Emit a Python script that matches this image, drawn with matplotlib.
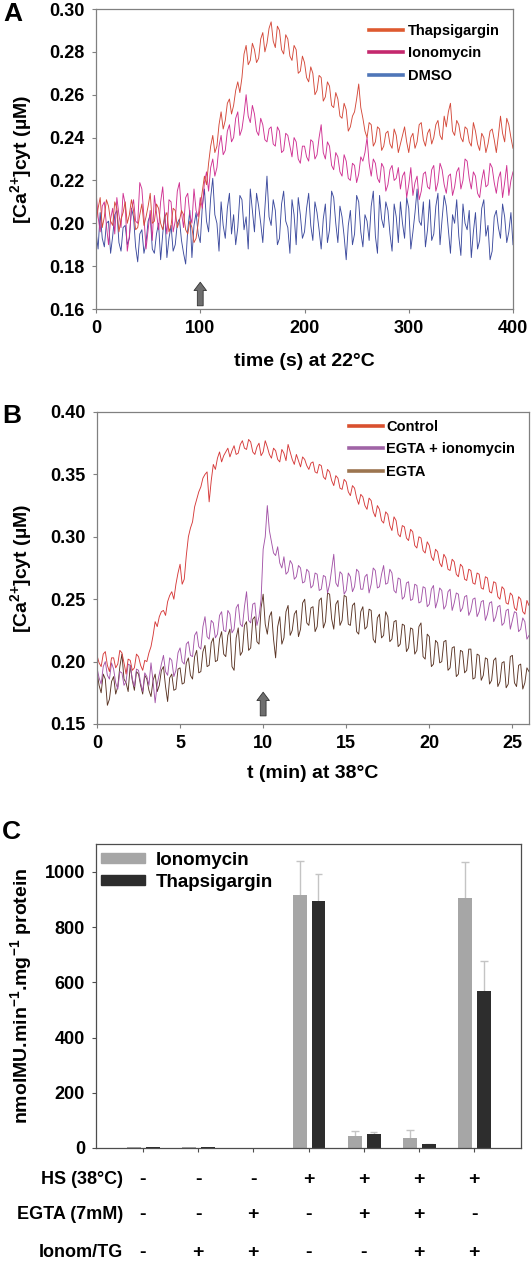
import numpy as np
import matplotlib.pyplot as plt
from matplotlib.lines import Line2D
from matplotlib.patches import Patch

plt.rcParams["font.family"] = ["Liberation Sans", "DejaVu Sans"]
plt.rcParams["font.weight"] = "bold"
plt.rcParams["axes.labelweight"] = "bold"
plt.rcParams["mathtext.fontset"] = "custom"
plt.rcParams["mathtext.rm"] = "Liberation Sans:bold"
plt.rcParams["mathtext.bf"] = "Liberation Sans:bold"
plt.rcParams["mathtext.default"] = "bf"

# ---- panel A: [Ca2+]cyt at 22 C, one reading every 2 s (0..400 s)
a_thapsigargin = [
    0.200, 0.207, 0.212, 0.198, 0.203, 0.211, 0.208, 0.201, 0.199, 0.210,
    0.207, 0.196, 0.202, 0.205, 0.210, 0.200, 0.204, 0.211, 0.206, 0.197,
    0.198, 0.204, 0.209, 0.199, 0.203, 0.208, 0.214, 0.200, 0.201, 0.209,
    0.207, 0.200, 0.197, 0.203, 0.205, 0.196, 0.199, 0.207, 0.206, 0.198,
    0.201, 0.206, 0.204, 0.197, 0.195, 0.201, 0.198, 0.191, 0.193, 0.200,
    0.208, 0.215, 0.222, 0.218, 0.228, 0.236, 0.241, 0.233, 0.236, 0.246,
    0.252, 0.244, 0.248, 0.256, 0.258, 0.251, 0.255, 0.262, 0.266, 0.261,
    0.268, 0.279, 0.283, 0.274, 0.276, 0.284, 0.281, 0.275, 0.277, 0.286,
    0.289, 0.280, 0.284, 0.291, 0.294, 0.285, 0.282, 0.292, 0.290, 0.281,
    0.279, 0.288, 0.286, 0.278, 0.276, 0.283, 0.281, 0.270, 0.271, 0.278,
    0.275, 0.268, 0.266, 0.273, 0.270, 0.260, 0.262, 0.269, 0.268, 0.257,
    0.259, 0.266, 0.264, 0.255, 0.254, 0.261, 0.258, 0.250, 0.249, 0.256,
    0.253, 0.243, 0.245, 0.250, 0.252, 0.258, 0.265, 0.254, 0.249, 0.243,
    0.240, 0.247, 0.246, 0.236, 0.238, 0.245, 0.244, 0.234, 0.236, 0.242,
    0.243, 0.237, 0.235, 0.244, 0.241, 0.233, 0.237, 0.241, 0.245, 0.238,
    0.233, 0.240, 0.242, 0.235, 0.238, 0.246, 0.247, 0.239, 0.236, 0.242,
    0.244, 0.237, 0.240, 0.246, 0.248, 0.241, 0.239, 0.250, 0.245, 0.252,
    0.256, 0.243, 0.241, 0.248, 0.246, 0.240, 0.238, 0.245, 0.244, 0.238,
    0.236, 0.247, 0.243, 0.237, 0.234, 0.242, 0.240, 0.233, 0.237, 0.243,
    0.244, 0.239, 0.233, 0.241, 0.250, 0.242, 0.238, 0.249, 0.246, 0.240,
    0.235,
]
a_ionomycin = [
    0.215, 0.203, 0.196, 0.208, 0.210, 0.199, 0.190, 0.202, 0.207, 0.195,
    0.212, 0.204, 0.198, 0.214, 0.209, 0.187, 0.194, 0.206, 0.211, 0.201,
    0.200, 0.219, 0.216, 0.203, 0.188, 0.197, 0.206, 0.192, 0.213, 0.205,
    0.197, 0.210, 0.217, 0.203, 0.195, 0.211, 0.210, 0.196, 0.201, 0.215,
    0.219, 0.205, 0.198, 0.212, 0.214, 0.204, 0.200, 0.216, 0.206, 0.203,
    0.212, 0.207, 0.219, 0.224, 0.215, 0.226, 0.230, 0.222, 0.226, 0.236,
    0.241, 0.232, 0.234, 0.243, 0.246, 0.238, 0.240, 0.249, 0.252, 0.241,
    0.244, 0.251, 0.260, 0.250, 0.247, 0.255, 0.251, 0.243, 0.241, 0.249,
    0.246, 0.239, 0.238, 0.244, 0.245, 0.237, 0.236, 0.245, 0.243, 0.233,
    0.234, 0.242, 0.241, 0.236, 0.231, 0.240, 0.238, 0.230, 0.228, 0.236,
    0.236, 0.231, 0.229, 0.239, 0.238, 0.230, 0.232, 0.240, 0.246, 0.233,
    0.230, 0.238, 0.236, 0.227, 0.225, 0.233, 0.231, 0.224, 0.222, 0.232,
    0.229, 0.221, 0.220, 0.228, 0.227, 0.219, 0.223, 0.231, 0.229, 0.233,
    0.240, 0.228, 0.222, 0.230, 0.228, 0.221, 0.219, 0.228, 0.226, 0.215,
    0.218, 0.225, 0.227, 0.220, 0.221, 0.226, 0.216, 0.222, 0.224, 0.212,
    0.218, 0.226, 0.213, 0.219, 0.222, 0.211, 0.215, 0.223, 0.224, 0.217,
    0.216, 0.225, 0.227, 0.215, 0.219, 0.228, 0.225, 0.218, 0.214, 0.222,
    0.223, 0.213, 0.217, 0.224, 0.226, 0.216, 0.220, 0.230, 0.229, 0.221,
    0.216, 0.224, 0.222, 0.214, 0.212, 0.220, 0.225, 0.217, 0.218, 0.228,
    0.226, 0.219, 0.214, 0.221, 0.224, 0.212, 0.219, 0.227, 0.213, 0.220,
    0.224,
]
a_dmso = [
    0.196, 0.188, 0.205, 0.193, 0.189, 0.200, 0.201, 0.186, 0.194, 0.204,
    0.206, 0.191, 0.187, 0.198, 0.199, 0.190, 0.193, 0.207, 0.203, 0.189,
    0.182, 0.195, 0.197, 0.186, 0.191, 0.201, 0.204, 0.188, 0.186, 0.195,
    0.200, 0.183, 0.195, 0.205, 0.184, 0.193, 0.199, 0.187, 0.190, 0.200,
    0.202, 0.192, 0.186, 0.181, 0.197, 0.206, 0.184, 0.199, 0.205, 0.195,
    0.191, 0.208, 0.216, 0.201, 0.196, 0.212, 0.221, 0.204, 0.200, 0.187,
    0.210, 0.199, 0.193, 0.207, 0.214, 0.195, 0.204, 0.190, 0.198, 0.213,
    0.211, 0.197, 0.203, 0.188, 0.216, 0.206, 0.196, 0.214, 0.208, 0.200,
    0.191, 0.207, 0.222, 0.203, 0.199, 0.211, 0.206, 0.190, 0.193, 0.209,
    0.215, 0.201, 0.198, 0.186, 0.211, 0.204, 0.190, 0.212, 0.204, 0.193,
    0.196, 0.207, 0.214, 0.199, 0.192, 0.210, 0.205, 0.197, 0.188, 0.202,
    0.209, 0.191, 0.197, 0.215, 0.212, 0.200, 0.191, 0.208, 0.203, 0.194,
    0.183, 0.199, 0.206, 0.190, 0.195, 0.213, 0.210, 0.196, 0.189, 0.204,
    0.201, 0.192, 0.208, 0.215, 0.194, 0.186, 0.213, 0.202, 0.198, 0.210,
    0.206, 0.195, 0.187, 0.209, 0.203, 0.191, 0.210, 0.200, 0.193, 0.212,
    0.207, 0.188, 0.196, 0.205, 0.216, 0.201, 0.199, 0.210, 0.189, 0.197,
    0.211, 0.192, 0.195, 0.208, 0.214, 0.190, 0.202, 0.213, 0.208, 0.197,
    0.186, 0.204, 0.200, 0.211, 0.194, 0.185, 0.209, 0.200, 0.197, 0.206,
    0.184, 0.196, 0.205, 0.188, 0.192, 0.207, 0.211, 0.194, 0.199, 0.183,
    0.187, 0.203, 0.206, 0.198, 0.193, 0.209, 0.203, 0.191, 0.196, 0.205,
    0.190,
]

# ---- panel B: [Ca2+]cyt at 38 C, one reading every 0.125 min (0..26 min)
b_control = [
    0.205, 0.199, 0.196, 0.206, 0.208, 0.197, 0.192, 0.203, 0.203, 0.195,
    0.198, 0.209, 0.207, 0.199, 0.190, 0.202, 0.201, 0.193, 0.195, 0.206,
    0.204, 0.197, 0.193, 0.201, 0.200, 0.207,
    0.212, 0.221, 0.232, 0.228, 0.236, 0.240, 0.241, 0.237, 0.248, 0.253,
    0.256, 0.250, 0.262, 0.271, 0.278, 0.262, 0.266, 0.285, 0.300, 0.307,
    0.312, 0.324, 0.330, 0.336, 0.340, 0.347, 0.350, 0.352, 0.328, 0.345,
    0.358, 0.354, 0.363, 0.368, 0.360, 0.365, 0.368, 0.371, 0.364, 0.369,
    0.373, 0.366, 0.367, 0.374, 0.377, 0.371, 0.370, 0.378, 0.376, 0.368,
    0.366, 0.372, 0.375, 0.365, 0.368, 0.377, 0.372, 0.366, 0.363, 0.371,
    0.369, 0.362, 0.360, 0.370, 0.367, 0.361, 0.374, 0.368, 0.362, 0.358,
    0.366, 0.361, 0.356, 0.364, 0.362, 0.357, 0.354, 0.359, 0.360, 0.352,
    0.351, 0.358, 0.357, 0.348, 0.346, 0.354, 0.352, 0.345, 0.341, 0.349,
    0.347, 0.339, 0.338, 0.346, 0.344, 0.336, 0.333, 0.341, 0.339, 0.331,
    0.326, 0.334, 0.332, 0.325, 0.322, 0.331, 0.329, 0.320, 0.316, 0.325,
    0.322, 0.313, 0.311, 0.320, 0.318, 0.309, 0.305, 0.316, 0.313, 0.302,
    0.300, 0.309, 0.308, 0.299, 0.297, 0.306, 0.304, 0.293, 0.291, 0.300,
    0.299, 0.289, 0.287, 0.296, 0.293, 0.284, 0.281, 0.290, 0.288, 0.279,
    0.276, 0.286, 0.283, 0.274, 0.273, 0.282, 0.280, 0.270, 0.268, 0.278,
    0.276, 0.266, 0.265, 0.274, 0.273, 0.263, 0.262, 0.271, 0.270, 0.259,
    0.258, 0.268, 0.267, 0.256, 0.255, 0.264, 0.263, 0.252, 0.250, 0.260,
    0.258, 0.247, 0.246, 0.255, 0.253, 0.243, 0.241, 0.252, 0.250, 0.240,
    0.238, 0.249, 0.245,
]
b_egta_iono = [
    0.195, 0.187, 0.182, 0.196, 0.200, 0.189, 0.186, 0.199, 0.194, 0.183,
    0.178, 0.192, 0.191, 0.181, 0.184, 0.198, 0.197, 0.186, 0.180, 0.194,
    0.193, 0.183, 0.176, 0.191, 0.188, 0.181, 0.199, 0.184, 0.167, 0.182,
    0.190, 0.198, 0.205, 0.192, 0.189, 0.203, 0.201, 0.188, 0.193, 0.207,
    0.211, 0.200, 0.198, 0.214, 0.216, 0.205, 0.204, 0.221, 0.224, 0.212,
    0.210, 0.228, 0.236, 0.220, 0.218, 0.233, 0.231, 0.219, 0.222, 0.237,
    0.240, 0.225, 0.224, 0.241, 0.238, 0.223, 0.226, 0.243, 0.246, 0.230,
    0.228, 0.244, 0.256, 0.233, 0.231, 0.246, 0.247, 0.229, 0.236, 0.250,
    0.290, 0.300, 0.325, 0.305, 0.296, 0.287, 0.285, 0.292, 0.279, 0.275,
    0.284, 0.270, 0.272, 0.281, 0.278, 0.266, 0.268, 0.277, 0.275, 0.263,
    0.264, 0.274, 0.272, 0.259, 0.261, 0.271, 0.270, 0.257, 0.258, 0.269,
    0.268, 0.255, 0.262, 0.274, 0.286, 0.263, 0.260, 0.272, 0.270, 0.254,
    0.257, 0.271, 0.268, 0.256, 0.260, 0.274, 0.272, 0.258, 0.258, 0.268,
    0.270, 0.255, 0.262, 0.275, 0.273, 0.259, 0.260, 0.270, 0.277, 0.262,
    0.263, 0.274, 0.271, 0.257, 0.255, 0.267, 0.266, 0.250, 0.252, 0.263,
    0.264, 0.249, 0.250, 0.262, 0.261, 0.247, 0.248, 0.260, 0.259, 0.244,
    0.246, 0.258, 0.261, 0.243, 0.249, 0.259, 0.257, 0.242, 0.245, 0.256,
    0.258, 0.241, 0.247, 0.255, 0.254, 0.240, 0.243, 0.252, 0.253, 0.237,
    0.241, 0.250, 0.251, 0.236, 0.240, 0.248, 0.249, 0.233, 0.238, 0.247,
    0.248, 0.232, 0.236, 0.244, 0.245, 0.229, 0.231, 0.241, 0.242, 0.226,
    0.233, 0.240, 0.239, 0.224, 0.226, 0.235, 0.232, 0.218, 0.221,
]
b_egta = [
    0.192, 0.181, 0.175, 0.190, 0.186, 0.165, 0.170, 0.184, 0.188, 0.174,
    0.180, 0.196, 0.206, 0.186, 0.183, 0.176, 0.197, 0.185, 0.177, 0.192,
    0.190, 0.181, 0.174, 0.189, 0.186, 0.177, 0.172, 0.185, 0.190, 0.176,
    0.181, 0.193, 0.196, 0.180, 0.168, 0.187, 0.190, 0.177, 0.178, 0.194,
    0.195, 0.182, 0.183, 0.199, 0.203, 0.189, 0.186, 0.204, 0.209, 0.191,
    0.192, 0.208, 0.213, 0.196, 0.197, 0.215, 0.219, 0.200, 0.201, 0.218,
    0.224, 0.206, 0.204, 0.221, 0.226, 0.196, 0.193, 0.219, 0.227, 0.205,
    0.208, 0.229, 0.232, 0.209, 0.211, 0.234, 0.236, 0.216, 0.214, 0.243,
    0.254, 0.230, 0.222, 0.236, 0.240, 0.218, 0.203, 0.228, 0.236, 0.214,
    0.219, 0.240, 0.245, 0.221, 0.225, 0.238, 0.241, 0.220, 0.226, 0.247,
    0.250, 0.231, 0.229, 0.243, 0.244, 0.224, 0.228, 0.249, 0.251, 0.227,
    0.232, 0.255, 0.254, 0.234, 0.226, 0.246, 0.249, 0.229, 0.233, 0.253,
    0.252, 0.230, 0.229, 0.245, 0.247, 0.224, 0.222, 0.240, 0.244, 0.226,
    0.228, 0.242, 0.241, 0.218, 0.215, 0.235, 0.238, 0.219, 0.221, 0.240,
    0.236, 0.216, 0.218, 0.232, 0.233, 0.212, 0.214, 0.230, 0.229, 0.208,
    0.211, 0.227, 0.226, 0.206, 0.209, 0.228, 0.231, 0.204, 0.202, 0.222,
    0.220, 0.196, 0.198, 0.217, 0.215, 0.199, 0.200, 0.216, 0.217, 0.193,
    0.195, 0.211, 0.212, 0.188, 0.190, 0.209, 0.208, 0.191, 0.193, 0.210,
    0.210, 0.186, 0.187, 0.206, 0.205, 0.185, 0.189, 0.203, 0.202, 0.182,
    0.185, 0.201, 0.203, 0.180, 0.184, 0.199, 0.200, 0.179, 0.182, 0.204,
    0.205, 0.183, 0.180, 0.197, 0.198, 0.178, 0.183, 0.195, 0.192,
]

# ---- panel C: GUS activity (nmol MU / min / mg protein)
c_groups = [0, 1, 2, 3, 4, 5, 6]
c_iono = [2, 2, 0, 918, 42, 37, 904]
c_iono_err = [0, 0, 0, 122, 19, 28, 133]
c_thap = [2, 3, 0, 895, 51, 13, 570]
c_thap_err = [0, 0, 0, 99, 8, 2, 108]
row_labels = ["HS (38°C)", "EGTA (7mM)", "Ionom/TG"]
row_hs = ["-", "-", "-", "+", "+", "+", "+"]
row_egta = ["-", "-", "+", "-", "+", "+", "-"]
row_ionom = ["-", "+", "+", "-", "-", "+", "+"]

W, H = 531, 1261
fig = plt.figure(figsize=(W / 100, H / 100), dpi=100)

CA_LABEL = r"[Ca$^{2{+}}$]cyt (µM)"


def frame(ax, color):
    for s in ax.spines.values():
        s.set_color(color)
        s.set_linewidth(0.9)
    ax.tick_params(direction="out", length=3, width=0.8, color=color,
                   labelsize=13, pad=5)


def up_arrow(ax, x, y0, y1):
    ax.annotate("", xy=(x, y1), xytext=(x, y0),
                arrowprops=dict(arrowstyle="simple,head_length=0.6,head_width=0.9,tail_width=0.42",
                                fc="#6e6e6e", ec="#333333", lw=0.6,
                                shrinkA=0, shrinkB=0, mutation_scale=10))


def upper_err(ax, x, y, err):
    # one-sided error bars, stem + cap only above the bar
    x, y, err = np.asarray(x), np.asarray(y, float), np.asarray(err, float)
    m = err > 0
    ax.vlines(x[m], y[m], y[m] + err[m], color="#c4c4c4", lw=1.0, zorder=1)
    ax.hlines(y[m] + err[m], x[m] - 0.07, x[m] + 0.07, color="#c4c4c4",
              lw=1.0, zorder=1)


# panel A
axA = fig.add_axes([96 / W, 1 - 309 / H, 417 / W, 300 / H])
frame(axA, "#808080")
for vals, col in [(a_dmso, "#3d4b9e"), (a_ionomycin, "#cf3192"),
                  (a_thapsigargin, "#d4493a")]:
    axA.plot(np.linspace(0, 400, len(vals)), vals, color=col, lw=0.65)
axA.set_xlim(0, 400)
axA.set_ylim(0.16, 0.30)
axA.set_xticks(range(0, 401, 100))
axA.set_yticks(np.arange(0.16, 0.301, 0.02))
axA.yaxis.set_major_formatter(plt.FuncFormatter(lambda v, _: f"{v:.2f}"))
axA.set_xlabel("time (s) at 22°C", fontsize=14)
axA.set_ylabel(CA_LABEL, fontsize=14)
axA.xaxis.set_label_coords(0.5, -0.146)
axA.yaxis.set_label_coords(-0.149, 0.5)
up_arrow(axA, 100, 0.1615, 0.1725)
handlesA = [Line2D([], [], color="#de5a30", lw=2.6),
            Line2D([], [], color="#c4286d", lw=2.6),
            Line2D([], [], color="#4f76b8", lw=2.6)]
axA.legend(handlesA, ["Thapsigargin", "Ionomycin", "DMSO"], loc="upper left",
           bbox_to_anchor=(0.655, 0.95), frameon=False, fontsize=10.5,
           handlelength=2.3, handletextpad=0.35, labelspacing=0.58,
           borderpad=0, borderaxespad=0)

# panel B
axB = fig.add_axes([97 / W, 1 - 724 / H, 432 / W, 312 / H])
frame(axB, "#808080")
for vals, col in [(b_egta, "#5a3424"), (b_egta_iono, "#a455a8"),
                  (b_control, "#d63a3a")]:
    axB.plot(np.linspace(0, 26, len(vals)), vals, color=col, lw=0.65)
axB.set_xlim(0, 26)
axB.set_ylim(0.15, 0.40)
axB.set_xticks(range(0, 26, 5))
axB.set_yticks(np.arange(0.15, 0.401, 0.05))
axB.yaxis.set_major_formatter(plt.FuncFormatter(lambda v, _: f"{v:.2f}"))
axB.set_xlabel("t (min) at 38°C", fontsize=14)
axB.set_ylabel(CA_LABEL, fontsize=14)
axB.xaxis.set_label_coords(0.5, -0.131)
axB.yaxis.set_label_coords(-0.145, 0.5)
up_arrow(axB, 10, 0.1565, 0.1755)
handlesB = [Line2D([], [], color="#d9502f", lw=2.6),
            Line2D([], [], color="#a064a6", lw=2.6),
            Line2D([], [], color="#9c7550", lw=2.6)]
axB.legend(handlesB, ["Control", "EGTA + ionomycin", "EGTA"], loc="upper left",
           bbox_to_anchor=(0.584, 0.975), frameon=False, fontsize=10.5,
           handlelength=2.3, handletextpad=0.25, labelspacing=0.58,
           borderpad=0, borderaxespad=0)

# panel C
axC = fig.add_axes([96 / W, 1 - 1148 / H, 425 / W, 304 / H])
frame(axC, "#4d4d4d")
xg = np.array(c_groups)
axC.bar(xg - 0.16, c_iono, width=0.25, color="#a6a6a6", zorder=2)
axC.bar(xg + 0.18, c_thap, width=0.25, color="#2d2d2d", zorder=2)
upper_err(axC, xg - 0.16, c_iono, c_iono_err)
upper_err(axC, xg + 0.18, c_thap, c_thap_err)
axC.set_xlim(-0.85, 6.85)
axC.set_ylim(0, 1101)
axC.set_xticks(c_groups)
axC.set_xticklabels([])
axC.set_yticks(range(0, 1001, 200))
axC.set_ylabel("nmolMU.min$^{-1}$.mg$^{-1}$ protein", fontsize=14)
axC.yaxis.set_label_coords(-0.146, 0.5)
handlesC = [Patch(color="#a6a6a6"), Patch(color="#2d2d2d")]
axC.legend(handlesC, ["Ionomycin", "Thapsigargin"], loc="upper left",
           bbox_to_anchor=(0.012, 0.975), frameon=False, fontsize=13.5,
           handlelength=2.35, handleheight=0.45, handletextpad=0.55,
           labelspacing=0.28, borderpad=0, borderaxespad=0)

row_y = [-0.105, -0.220, -0.345]
tr = axC.get_xaxis_transform()
for row, yy in zip([row_hs, row_egta, row_ionom], row_y):
    for gx, sign in zip(c_groups, row):
        axC.text(gx, yy, sign, transform=tr, ha="center", va="center",
                 fontsize=14)
for lab, yy in zip(row_labels, row_y):
    axC.text(0.063, yy, lab, transform=axC.transAxes, ha="right",
             va="center", fontsize=13)

fig.text(3 / W, 1 - 2 / H, "A", fontsize=19, ha="left", va="top")
fig.text(2 / W, 1 - 404 / H, "B", fontsize=19, ha="left", va="top")
fig.text(2 / W, 1 - 820 / H, "C", fontsize=19, ha="left", va="top")

fig.savefig("out.png", dpi=100)
